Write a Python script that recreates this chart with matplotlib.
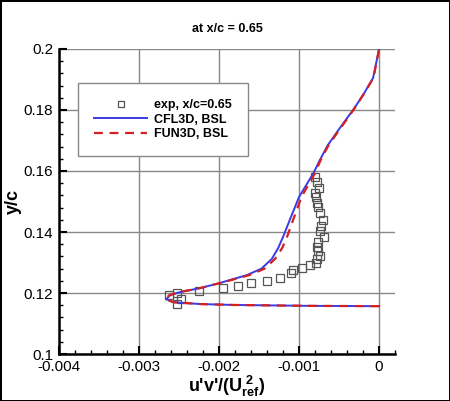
import numpy as np
import matplotlib
matplotlib.use('Agg')
import matplotlib.pyplot as plt
from matplotlib.ticker import MultipleLocator

plt.rcParams['font.family'] = ['Liberation Sans', 'DejaVu Sans']
plt.rcParams['mathtext.fontset'] = 'custom'
plt.rcParams['mathtext.bf'] = 'Liberation Sans:bold'
plt.rcParams['mathtext.rm'] = 'Liberation Sans:bold'
plt.rcParams['mathtext.it'] = 'Liberation Sans:bold'

# experiment, x/c = 0.65
exp_x = [-0.00253, -0.00248, -0.00262, -0.00253, -0.00225, -0.00195, -0.00176,
         -0.0016, -0.0014, -0.00124, -0.0011, -0.00108, -0.00096, -0.00086,
         -0.00079, -0.00078, -0.00074, -0.00076, -0.00078, -0.00076, -0.00069,
         -0.00074, -0.000725, -0.0007, -0.00074, -0.00076, -0.00078, -0.00079,
         -0.0008, -0.00075, -0.000775, -0.0008]
exp_y = [0.1165, 0.1182, 0.1192, 0.1200, 0.1207, 0.1216, 0.1223,
         0.1233, 0.1240, 0.1249, 0.1266, 0.1275, 0.1282, 0.1292,
         0.1298, 0.1311, 0.1321, 0.1338, 0.1351, 0.1367, 0.1384,
         0.1403, 0.1420, 0.1439, 0.1462, 0.1482, 0.1495, 0.1515,
         0.1528, 0.1544, 0.1564, 0.1580]

# CFL3D, BSL
cfl_x = [0.0, -0.00086, -0.00182, -0.00224, -0.00257, -0.00266, -0.00261,
         -0.00249, -0.00224, -0.00199, -0.00186, -0.00165, -0.00147, -0.00134,
         -0.00126, -0.0012, -0.0011, -0.001, -0.00082, -0.00074, -0.00064,
         -0.00049, -0.000325, -0.0002, -0.000075, 0.0]
cfl_y = [0.1157, 0.1158, 0.1161, 0.1164, 0.1170, 0.1180, 0.1193,
         0.1203, 0.1216, 0.1233, 0.1243, 0.1259, 0.1280, 0.1312,
         0.1348, 0.1384, 0.1450, 0.1515, 0.1593, 0.1636, 0.1685,
         0.1741, 0.1800, 0.1849, 0.1905, 0.2000]

# FUN3D, BSL
fun_x = [0.0, -0.00086, -0.00182, -0.00224, -0.00257, -0.00267, -0.00262,
         -0.0025, -0.00224, -0.00198, -0.00184, -0.00162, -0.00143, -0.0013,
         -0.00121, -0.00115, -0.00106, -0.00097, -0.0008, -0.00073, -0.00063,
         -0.00048, -0.00032, -0.0002, -0.00007, 0.0]
fun_y = cfl_y

fig = plt.figure(figsize=(4.5, 4.01), dpi=100)
fig.patch.set_edgecolor('black')
fig.patch.set_linewidth(2)
ax = fig.add_axes([0.131, 0.117, 0.747, 0.761])

ax.plot(exp_x, exp_y, linestyle='none', marker='s', markersize=5.5,
        markerfacecolor='none', markeredgecolor='#555555', markeredgewidth=0.9,
        label='exp, x/c=0.65', zorder=3)
ax.plot(cfl_x, cfl_y, color='#3a3ae8', linewidth=1.4, label='CFL3D, BSL', zorder=4)
ax.plot(fun_x, fun_y, color='#d42020', linewidth=1.6, linestyle=(0, (4, 3)),
        label='FUN3D, BSL', zorder=5)

ax.set_xlim(-0.004, 0.0002)
ax.set_ylim(0.1, 0.2)
ax.set_xticks([-0.004, -0.003, -0.002, -0.001, 0])
ax.set_xticklabels(['-0.004', '-0.003', '-0.002', '-0.001', '0'])
ax.set_yticks([0.1, 0.12, 0.14, 0.16, 0.18, 0.2])
ax.set_yticklabels(['0.1', '0.12', '0.14', '0.16', '0.18', '0.2'])
ax.xaxis.set_minor_locator(MultipleLocator(0.0002))
ax.yaxis.set_minor_locator(MultipleLocator(0.004))
ax.tick_params(which='major', direction='in', length=6, width=1.5, labelsize=11, pad=4)
ax.tick_params(which='minor', direction='in', length=3, width=1)
ax.grid(True, which='major', color='#888888', linewidth=1)

for s in ['top', 'right']:
    ax.spines[s].set_visible(False)
for s in ['left', 'bottom']:
    ax.spines[s].set_linewidth(1.8)

ax.set_title('at x/c = 0.65', fontsize=9, fontweight='bold', pad=12)
ax.set_xlabel("u'v'/(U$_{ref}^{\\ 2}$)", fontsize=13, fontweight='bold', labelpad=0)
ax.set_ylabel('y/c', fontsize=13, fontweight='bold', labelpad=1)

leg = ax.legend(loc='upper left', bbox_to_anchor=(0.057, 0.889), borderaxespad=0,
                fancybox=False, edgecolor='#888888', framealpha=1, handlelength=4.2,
                borderpad=1.3, labelspacing=0.2, handletextpad=0.6, markerscale=0.7,
                prop={'weight': 'bold', 'size': 9})
leg.get_frame().set_linewidth(1)

fig.savefig('out.png', dpi=100)
